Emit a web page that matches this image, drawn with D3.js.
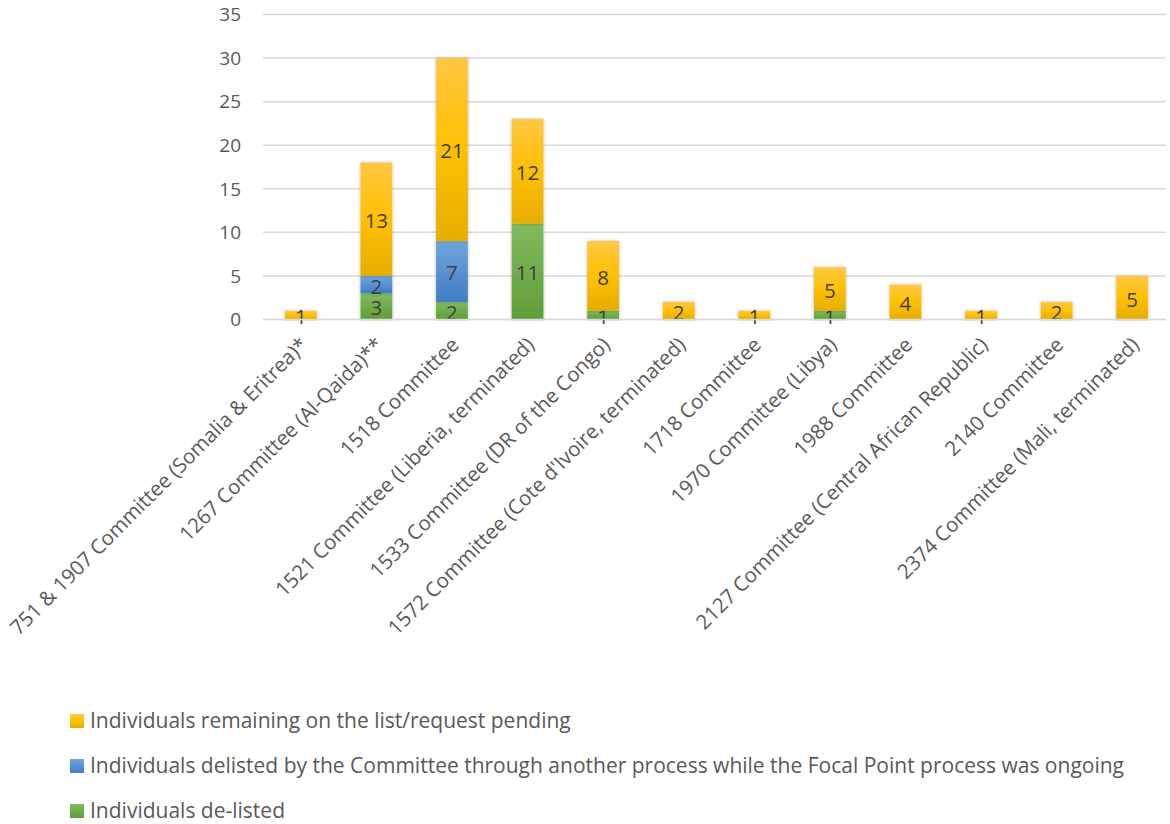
<!DOCTYPE html>
<html>
<head>
<meta charset="utf-8">
<script src="https://cdn.jsdelivr.net/npm/d3@7"></script>
<style>
body { margin: 0; background: #fff; }
text { font-family: "Open Sans", Lato, sans-serif; }
</style>
</head>
<body>
<div id="chart"></div>
<script>
var categories = ["751 & 1907 Committee (Somalia & Eritrea)*", "1267 Committee (Al-Qaida)**", "1518 Committee",
  "1521 Committee (Liberia, terminated)", "1533 Committee (DR of the Congo)", "1572 Committee (Cote d'Ivoire, terminated)",
  "1718 Committee", "1970 Committee (Libya)", "1988 Committee", "2127 Committee (Central African Republic)",
  "2140 Committee", "2374 Committee (Mali, terminated)"];
var delisted = [0, 3, 2, 11, 1, 0, 0, 1, 0, 0, 0, 0];
var delistedOther = [0, 2, 7, 0, 0, 0, 0, 0, 0, 0, 0, 0];
var remaining = [1, 13, 21, 12, 8, 2, 1, 5, 4, 1, 2, 5];
var seriesNames = ["Individuals de-listed",
  "Individuals delisted by the Committee through another process while the Focal Point process was ongoing",
  "Individuals remaining on the list/request pending"];
var yTicks = [0, 5, 10, 15, 20, 25, 30, 35];

var width = 1170, height = 824;
var textSize = 20.4, legendSize = 21, numSize = 19, labelSize = 20.5;
var svg = d3.select("#chart").append("svg").attr("width", width).attr("height", height);

var grads = [
  {id: "gGreen", c: ["#80bb5e", "#5e9e38"]},
  {id: "gBlue", c: ["#72a6dc", "#3f7dc3"]},
  {id: "gYellow", c: ["#ffc844", "#ffc000", "#e5ad00"]}
];
var defs = svg.append("defs");
grads.forEach(function(g) {
  var lg = defs.append("linearGradient").attr("id", g.id).attr("x1", 0).attr("y1", 0).attr("x2", 0).attr("y2", 1);
  g.c.forEach(function(col, i) {
    lg.append("stop").attr("offset", i / (g.c.length - 1)).attr("stop-color", col);
  });
});
var f = defs.append("filter").attr("id", "shadow").attr("x", "-30%").attr("y", "-30%").attr("width", "160%").attr("height", "160%");
f.append("feDropShadow").attr("dx", 0).attr("dy", 0).attr("stdDeviation", 1.8).attr("flood-color", "#000").attr("flood-opacity", 0.3);

var x = d3.scaleBand().domain(categories).range([263, 1170]).paddingInner(0.58).paddingOuter(0.29);
var y = d3.scaleLinear().domain([0, 35]).range([319.5, 14.5]);

// gridlines
svg.append("g").selectAll("line").data(yTicks).enter().append("line")
  .attr("x1", 263).attr("x2", 1166)
  .attr("y1", function(d) { return y(d); }).attr("y2", function(d) { return y(d); })
  .attr("stroke", "#d9d9d9").attr("stroke-width", 1.5);

svg.append("g").selectAll("text").data(yTicks).enter().append("text")
  .attr("x", 241).attr("y", function(d) { return y(d); }).attr("dy", "0.36em")
  .attr("text-anchor", "end").attr("font-size", numSize).attr("fill", "#595959")
  .text(function(d) { return d; });

var table = categories.map(function(c, i) {
  return {cat: c, s0: delisted[i], s1: delistedOther[i], s2: remaining[i]};
});
var stack = d3.stack().keys(["s0", "s1", "s2"])(table);
var fills = ["url(#gGreen)", "url(#gBlue)", "url(#gYellow)"];

var layers = svg.append("g").selectAll("g").data(stack).enter().append("g")
  .attr("fill", function(d, i) { return fills[i]; });

layers.selectAll("rect").data(function(d) { return d.filter(function(p) { return p[1] > p[0]; }); })
  .enter().append("rect")
  .attr("filter", "url(#shadow)")
  .attr("x", function(d) { return x(d.data.cat); })
  .attr("width", x.bandwidth())
  .attr("y", function(d) { return y(d[1]); })
  .attr("height", function(d) { return y(d[0]) - y(d[1]); });

// baseline drawn over bar bottoms
svg.append("line").attr("x1", 263).attr("x2", 1166).attr("y1", y(0)).attr("y2", y(0))
  .attr("stroke", "#d9d9d9").attr("stroke-width", 1.5);

layers.selectAll("text").data(function(d) { return d.filter(function(p) { return p[1] > p[0]; }); })
  .enter().append("text")
  .attr("x", function(d) { return x(d.data.cat) + x.bandwidth() / 2; })
  .attr("y", function(d) { return (y(d[0]) + y(d[1])) / 2 + 1.5; })
  .attr("dy", "0.36em").attr("text-anchor", "middle")
  .attr("font-size", labelSize).attr("fill", "#404040")
  .text(function(d) { return d[1] - d[0]; });

// category labels
svg.append("g").selectAll("text").data(categories).enter().append("text")
  .attr("transform", function(d) {
    return "translate(" + (x(d) + x.bandwidth() / 2 + 3) + "," + 341 + ") rotate(-45)";
  })
  .attr("text-anchor", "end").attr("dy", "0.35em")
  .attr("font-size", textSize).attr("fill", "#595959")
  .text(function(d) { return d; });

// legend
var legendOrder = [2, 1, 0];
var lg = svg.append("g").selectAll("g").data(legendOrder).enter().append("g")
  .attr("transform", function(d, i) { return "translate(70," + (721 + i * 45) + ")"; });
lg.append("rect").attr("x", 0).attr("y", -7).attr("width", 14).attr("height", 14)
  .attr("fill", function(d) { return fills[d]; });
lg.append("text").attr("x", 20).attr("dy", "0.35em").attr("font-size", legendSize).attr("fill", "#595959")
  .text(function(d) { return seriesNames[d]; });
</script>
</body>
</html>
